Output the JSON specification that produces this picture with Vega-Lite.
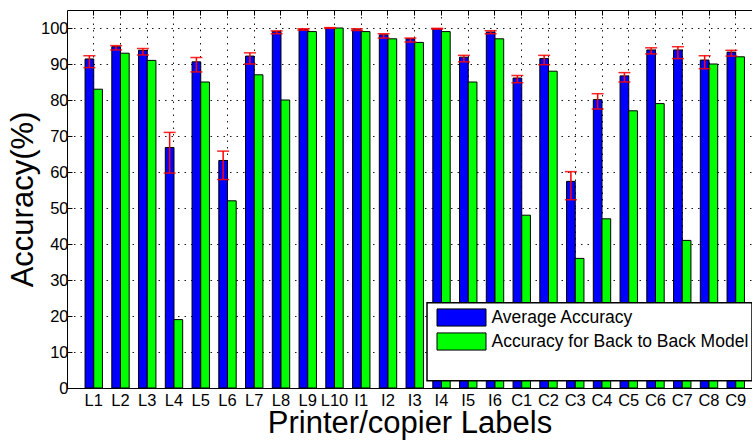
{
  "$schema": "https://vega.github.io/schema/vega-lite/v6.json",
  "width": 685,
  "height": 378,
  "autosize": {"type": "none"},
  "padding": {"left": 67, "top": 10, "right": 0, "bottom": 53},
  "background": "white",
  "config": {
    "view": {"stroke": null},
    "font": "Liberation Sans",
    "axis": {
      "domainColor": "black",
      "domainWidth": 1,
      "tickColor": "black",
      "labelColor": "black",
      "labelFontWeight": "normal",
      "titleColor": "black",
      "titleFontWeight": "normal",
      "gridColor": "#000000",
      "gridDash": [1.5, 5],
      "gridWidth": 1,
      "gridOpacity": 0.9
    },
    "axisY": {
      "title": "Accuracy(%)",
      "titleFontSize": 31,
      "titlePadding": 1,
      "labelFontSize": 16.5,
      "labelPadding": 4,
      "labelOverlap": false,
      "values": [0, 10, 20, 30, 40, 50, 60, 70, 80, 90, 100],
      "tickSize": -5,
      "grid": true
    }
  },
  "data": {
    "values": [
      {"label": "L1", "avg": 91.4, "lo": 89.0, "hi": 92.3, "b2b": 83},
      {"label": "L2", "avg": 94.8, "lo": 93.9, "hi": 95.1, "b2b": 93},
      {"label": "L3", "avg": 93.8, "lo": 92.5, "hi": 94.3, "b2b": 91},
      {"label": "L4", "avg": 66.8, "lo": 59.7, "hi": 71.0, "b2b": 19},
      {"label": "L5", "avg": 90.6, "lo": 87.8, "hi": 91.8, "b2b": 85},
      {"label": "L6", "avg": 63.2, "lo": 57.9, "hi": 65.8, "b2b": 52},
      {"label": "L7", "avg": 92.2, "lo": 90.0, "hi": 93.1, "b2b": 87},
      {"label": "L8", "avg": 99.0, "lo": 98.4, "hi": 99.2, "b2b": 80},
      {"label": "L9", "avg": 99.6, "lo": 99.4, "hi": 99.8, "b2b": 99},
      {"label": "L10", "avg": 100, "lo": 99.9, "hi": 100.1, "b2b": 100},
      {"label": "I1", "avg": 99.5, "lo": 99.3, "hi": 99.8, "b2b": 99},
      {"label": "I2", "avg": 98.1, "lo": 97.2, "hi": 98.4, "b2b": 97},
      {"label": "I3", "avg": 97.0, "lo": 96.1, "hi": 97.2, "b2b": 96},
      {"label": "I4", "avg": 99.8, "lo": 99.7, "hi": 99.9, "b2b": 99},
      {"label": "I5", "avg": 91.9, "lo": 90.6, "hi": 92.4, "b2b": 85},
      {"label": "I6", "avg": 98.9, "lo": 98.4, "hi": 99.25, "b2b": 97},
      {"label": "C1", "avg": 86.1, "lo": 84.8, "hi": 86.8, "b2b": 48},
      {"label": "C2", "avg": 91.5, "lo": 89.8, "hi": 92.4, "b2b": 88},
      {"label": "C3", "avg": 57.4, "lo": 52.3, "hi": 60.1, "b2b": 36},
      {"label": "C4", "avg": 80.1, "lo": 77.5, "hi": 81.75, "b2b": 47},
      {"label": "C5", "avg": 86.7, "lo": 85.0, "hi": 87.6, "b2b": 77},
      {"label": "C6", "avg": 93.9, "lo": 92.8, "hi": 94.5, "b2b": 79},
      {"label": "C7", "avg": 93.9, "lo": 91.5, "hi": 94.8, "b2b": 41},
      {"label": "C8", "avg": 91.1, "lo": 88.7, "hi": 92.3, "b2b": 90},
      {"label": "C9", "avg": 93.3, "lo": 92.2, "hi": 93.8, "b2b": 92}
    ]
  },
  "layer": [
    {
      "transform": [{"fold": ["avg", "b2b"], "as": ["series", "value"]}],
      "mark": {"type": "bar", "stroke": "black", "strokeWidth": 1},
      "encoding": {
        "x": {
          "field": "label",
          "type": "nominal",
          "sort": null,
          "scale": {"paddingInner": 0.35, "paddingOuter": 0.4785, "align": 0.705},
          "axis": {
            "orient": "bottom",
            "title": "Printer/copier Labels",
            "titleFontSize": 31,
            "titlePadding": 0,
            "labelFontSize": 16.5,
            "labelAngle": 0,
            "labelPadding": 4,
            "ticks": false,
            "grid": true,
            "bandPosition": 0.5
          }
        },
        "xOffset": {
          "field": "series",
          "type": "nominal",
          "sort": ["avg", "b2b"],
          "scale": {"paddingInner": 0, "paddingOuter": 0}
        },
        "y": {
          "field": "value",
          "type": "quantitative",
          "title": "Accuracy(%)",
          "scale": {"domain": [0, 105], "nice": false, "zero": true}
        },
        "color": {
          "field": "series",
          "type": "nominal",
          "scale": {
            "domain": ["avg", "b2b", " "],
            "range": ["#0000ff", "#00ff00", "#ffffff"]
          },
          "legend": {
            "title": null,
            "orient": "none",
            "legendX": 360,
            "legendY": 292.7,
            "fillColor": "white",
            "strokeColor": "black",
            "padding": 3,
            "symbolOffset": 6.5,
            "clipHeight": 23.6,
            "rowPadding": 0,
            "symbolType": "M-1,-0.35H1V0.35H-1Z",
            "symbolSize": 2401,
            "symbolStrokeColor": "black",
            "symbolStrokeWidth": 1,
            "symbolOpacity": 1,
            "labelFontSize": 17.5,
            "labelColor": "black",
            "labelOffset": 5,
            "labelLimit": 0,
            "labelExpr": "datum.value == 'avg' ? 'Average Accuracy' : datum.value == 'b2b' ? 'Accuracy for Back to Back Model' : ''",
            "encode": {
              "legend": {
                "update": {"strokeWidth": {"value": 1.5}}
              },
              "symbols": {
                "update": {
                  "stroke": [
                    {"test": "datum.value === ' '", "value": "white"},
                    {"value": "black"}
                  ]
                }
              }
            }
          }
        }
      }
    },
    {
      "mark": {"type": "rule", "color": "#ff0000", "strokeWidth": 1.5, "xOffset": -4.35},
      "encoding": {
        "x": {"field": "label", "type": "nominal", "sort": null, "axis": null},
        "y": {"field": "lo", "type": "quantitative", "title": "Accuracy(%)"},
        "y2": {"field": "hi"}
      }
    },
    {
      "mark": {"type": "tick", "color": "#ff0000", "thickness": 1.5, "size": 12, "xOffset": -4.35, "opacity": 0.85},
      "encoding": {
        "x": {"field": "label", "type": "nominal", "sort": null, "axis": null},
        "y": {"field": "lo", "type": "quantitative", "title": "Accuracy(%)"}
      }
    },
    {
      "mark": {"type": "tick", "color": "#ff0000", "thickness": 1.5, "size": 12, "xOffset": -4.35, "opacity": 0.85},
      "encoding": {
        "x": {"field": "label", "type": "nominal", "sort": null, "axis": null},
        "y": {"field": "hi", "type": "quantitative", "title": "Accuracy(%)"}
      }
    },
    {
      "mark": {"type": "rule", "opacity": 0},
      "encoding": {
        "x": {
          "field": "label",
          "type": "nominal",
          "sort": null,
          "axis": {
            "orient": "top",
            "title": null,
            "labels": false,
            "grid": false,
            "tickSize": -5,
            "bandPosition": 0.5
          }
        }
      }
    }
  ]
}
